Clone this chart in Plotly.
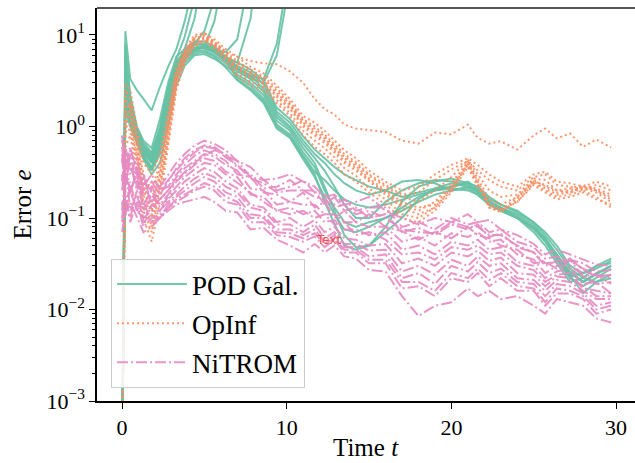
import plotly.graph_objects as go

# ---------------- data ----------------
t = [0.0, 0.2, 0.5, 0.9, 1.3, 1.8, 2.3, 2.8, 3.3, 3.8, 4.4, 5.0, 5.6, 6.3, 7.0, 7.8, 8.6, 9.4,
     10.2, 11.0, 11.7, 12.3, 12.9, 13.5, 14.2, 15.0, 16.0, 17.0, 18.0, 19.0, 20.0, 21.0, 21.6,
     22.3, 23.0, 24.0, 25.0, 25.7, 26.4, 27.2, 28.0, 28.8, 29.7]

N = None
# POD Galerkin runs (bounded ones)
pod_a = [1e-4, 8.0, 2.2, 1.0, 0.7, 0.58, 1.2, 3.0, 5.8, 7.0, 8.5, 8.5, 7.5, 5.8,
         5.0, 4.2, 3.2, 1.6, 1.2, 0.78, 0.56, 0.45, 0.36, 0.3, 0.26,
         0.22, 0.2, 0.17, 0.19, 0.21, 0.22, 0.25, 0.21, 0.16, 0.14, 0.12, 0.09, 0.07, 0.05, 0.03, 0.025, 0.028, 0.034]
pod_b = [1e-4, 5.0, 1.8, 0.9, 0.62, 0.5, 1.0, 2.6, 5.2, 6.5, 7.8, 7.8, 7.0, 5.5,
         4.6, 3.9, 2.9, 1.45, 1.1, 0.7, 0.5, 0.4, 0.3, 0.24, 0.2,
         0.18, 0.2, 0.25, 0.26, 0.24, 0.2, 0.22, 0.2, 0.15, 0.13, 0.11, 0.085, 0.06, 0.04, 0.025, 0.02, 0.024, 0.03]
pod_c = [1e-4, 3.0, 1.5, 0.82, 0.55, 0.43, 0.8, 2.2, 4.5, 6.0, 7.2, 7.2, 6.5, 5.2,
         4.3, 3.6, 2.6, 1.35, 1.0, 0.64, 0.45, 0.33, 0.22, 0.14, 0.1,
         0.1, 0.15, 0.2, 0.24, 0.26, 0.25, 0.23, 0.19, 0.14, 0.12, 0.1, 0.075, 0.055, 0.035, 0.022, 0.018, 0.022, 0.028]
pod_d = [1e-4, 2.0, 1.2, 0.72, 0.48, 0.36, 0.6, 1.6, 3.8, 5.4, 6.6, 6.8, 6.0, 4.9,
         4.0, 3.3, 2.4, 1.25, 0.95, 0.58, 0.4, 0.22, 0.12, 0.065, 0.048,
         0.05, 0.08, 0.15, 0.22, 0.25, 0.27, 0.24, 0.2, 0.15, 0.13, 0.1, 0.08, 0.06, 0.038, 0.024, 0.015, 0.02, 0.024]
pod_e = [1e-4, 1.5, 1.0, 0.65, 0.44, 0.3, 0.4, 1.0, 2.8, 4.6, 6.0, 6.2, 5.5, 4.6,
         3.7, 3.0, 2.2, 1.15, 0.9, 0.52, 0.36, 0.2, 0.13, 0.09, 0.08,
         0.09, 0.1, 0.12, 0.15, 0.18, 0.2, 0.21, 0.18, 0.14, 0.12, 0.1, 0.07, 0.05, 0.032, 0.02, 0.022, 0.03, 0.036]
pod_f = [1e-4, 6.0, 2.0, 0.95, 0.66, 0.52, 0.9, 2.4, 4.8, 6.4, 8.0, 8.0, 7.2, 5.6,
         3.5, 2.8, 2.0, 1.05, 0.82, 0.48, 0.32, 0.26, 0.2, 0.16, 0.14,
         0.13, 0.14, 0.16, 0.18, 0.2, 0.22, 0.24, 0.22, 0.17, 0.14, 0.115, 0.09, 0.065, 0.045, 0.028, 0.022, 0.02, 0.022]
pod_g = [1e-4, 4.0, 1.6, 0.86, 0.58, 0.46, 0.7, 1.9, 4.2, 5.8, 7.0, 7.4, 6.6, 5.3,
         3.3, 2.6, 1.9, 1.0, 0.78, 0.46, 0.3, 0.15, 0.085, 0.05, 0.045,
         0.05, 0.07, 0.1, 0.16, 0.21, 0.24, 0.22, 0.19, 0.15, 0.13, 0.105, 0.08, 0.058, 0.036, 0.023, 0.025, 0.03, 0.032]
pod_h = [1e-4, 2.5, 1.3, 0.76, 0.5, 0.33, 0.5, 1.3, 3.3, 5.0, 6.3, 6.5, 5.8, 4.4,
         3.2, 2.5, 1.8, 0.95, 0.75, 0.44, 0.28, 0.17, 0.11, 0.075, 0.07,
         0.08, 0.1, 0.13, 0.17, 0.2, 0.21, 0.2, 0.18, 0.14, 0.125, 0.1, 0.078, 0.057, 0.04, 0.026, 0.02, 0.025, 0.03]
# POD Galerkin runs that blow up
pod_u1 = [1e-4, 11.0, 3.3, 2.5, 2.0, 1.5, 2.7, 4.5, 7.0, 14.0, 40.0, 200.0] + [N] * 31
pod_u2 = [1e-4, 3.5, 1.7, 0.9, 0.6, 0.45, 0.9, 2.6, 5.5, 9.5, 25.0, 200.0] + [N] * 31
pod_u3 = [1e-4, 2.2, 1.3, 0.78, 0.52, 0.4, 0.75, 2.0, 4.5, 7.0, 15.0, 60.0] + [N] * 31
pod_u4 = [1e-4, 4.5, 1.7, 0.88, 0.6, 0.48, 0.85, 2.3, 4.8, 6.5, 8.0, 11.0, 25.0, 200.0] + [N] * 29
pod_u5 = [1e-4, 1.8, 1.1, 0.7, 0.46, 0.34, 0.55, 1.5, 3.6, 5.5, 6.8, 7.5, 14.0, 60.0] + [N] * 29
pod_u6 = [1e-4, 2.8, 1.4, 0.8, 0.54, 0.4, 0.65, 1.8, 4.0, 5.8, 7.0, 7.3, 6.8, 6.5, 9.0, 50.0] + [N] * 27
pod_u7 = [1e-4, 3.8, 1.6, 0.85, 0.57, 0.44, 0.7, 2.0, 4.3, 6.0, 7.3, 7.6, 6.7, 5.4, 5.0, 15.0, 200.0] + [N] * 26
pod_u8 = [1e-4, 2.4, 1.35, 0.8, 0.53, 0.42, 0.68, 1.9, 4.1, 5.9, 7.1, 7.4, 6.6, 5.4, 4.4, 3.6, 3.3, 8.0, 60.0] + [N] * 24
pod_u9 = [1e-4, 1.7, 1.05, 0.68, 0.45, 0.35, 0.58, 1.6, 3.7, 5.6, 6.9, 7.2, 6.4, 5.2, 4.2, 3.4, 3.0, 6.0, 40.0] + [N] * 24

# Operator Inference runs
opi_out = [1e-4, 2.0, 1.5, 0.6, 0.2, 0.12, 0.3, 1.0, 3.5, 6.5, 9.5, 10.5, 8.5, 6.5,
           5.8, 5.2, 4.9, 4.8, 4.0, 3.0, 2.0, 1.55, 1.35, 1.05, 0.95,
           0.92, 0.87, 0.7, 0.65, 0.86, 0.82, 1.05, 0.75, 0.65, 0.69, 0.56, 0.8, 0.95, 0.74, 0.84, 0.6, 0.72, 0.59]
opi_a = [1e-4, 3.0, 2.5, 1.0, 0.4, 0.3, 0.5, 1.5, 4.5, 7.0, 10.0, 10.5, 9.0, 7.0,
         5.8, 4.5, 3.8, 2.8, 2.0, 1.3, 1.1, 0.9, 0.7, 0.55, 0.45,
         0.33, 0.25, 0.2, 0.22, 0.3, 0.38, 0.45, 0.38, 0.3, 0.25, 0.22, 0.3, 0.32, 0.25, 0.24, 0.22, 0.25, 0.22]
opi_b = [1e-4, 2.5, 2.0, 0.8, 0.3, 0.2, 0.4, 1.2, 4.0, 6.5, 9.0, 10.0, 8.5, 6.5,
         5.2, 4.2, 3.5, 2.6, 1.85, 1.2, 1.0, 0.82, 0.64, 0.5, 0.41,
         0.3, 0.23, 0.18, 0.19, 0.26, 0.34, 0.42, 0.33, 0.26, 0.22, 0.2, 0.28, 0.3, 0.23, 0.22, 0.2, 0.23, 0.2]
opi_c = [1e-4, 1.5, 1.2, 0.5, 0.18, 0.1, 0.25, 0.9, 3.2, 6.0, 8.5, 9.5, 8.0, 6.0,
         4.6, 3.8, 3.2, 2.3, 1.7, 1.1, 0.9, 0.74, 0.58, 0.45, 0.37,
         0.27, 0.2, 0.15, 0.13, 0.14, 0.22, 0.4, 0.25, 0.14, 0.12, 0.17, 0.26, 0.22, 0.19, 0.2, 0.22, 0.2, 0.16]
opi_d = [1e-4, 1.0, 0.9, 0.4, 0.12, 0.07, 0.2, 0.8, 3.0, 5.5, 8.0, 9.0, 7.5, 5.5,
         4.2, 3.4, 2.9, 2.1, 1.55, 1.0, 0.8, 0.66, 0.52, 0.4, 0.33,
         0.25, 0.18, 0.13, 0.11, 0.13, 0.2, 0.38, 0.24, 0.13, 0.115, 0.16, 0.25, 0.21, 0.18, 0.19, 0.21, 0.19, 0.15]
opi_e = [1e-4, 0.6, 0.8, 0.3, 0.1, 0.055, 0.15, 0.6, 2.5, 5.0, 7.5, 8.5, 7.0, 5.0,
         3.5, 2.8, 2.5, 1.8, 1.3, 0.8, 0.6, 0.5, 0.4, 0.3, 0.25,
         0.19, 0.14, 0.1, 0.09, 0.12, 0.19, 0.36, 0.22, 0.13, 0.12, 0.15, 0.24, 0.2, 0.17, 0.18, 0.2, 0.17, 0.13]
opi_f = [1e-4, 2.0, 1.6, 0.7, 0.25, 0.15, 0.35, 1.1, 3.8, 6.2, 9.2, 9.8, 8.2, 6.2,
         4.9, 4.0, 3.3, 2.45, 1.75, 1.15, 0.95, 0.78, 0.6, 0.47, 0.39,
         0.29, 0.22, 0.17, 0.15, 0.2, 0.28, 0.43, 0.3, 0.2, 0.17, 0.18, 0.27, 0.26, 0.2, 0.21, 0.23, 0.21, 0.18]
opi_g = [1e-4, 1.2, 1.0, 0.45, 0.15, 0.08, 0.22, 0.7, 2.8, 5.2, 7.8, 8.8, 7.6, 5.8,
         3.8, 3.1, 2.7, 1.95, 1.4, 0.9, 0.7, 0.58, 0.46, 0.35, 0.29,
         0.21, 0.16, 0.11, 0.1, 0.13, 0.21, 0.39, 0.23, 0.14, 0.125, 0.15, 0.23, 0.19, 0.16, 0.17, 0.19, 0.16, 0.14]
opi_h = [1e-4, 0.8, 1.8, 0.6, 0.22, 0.12, 0.3, 1.0, 3.5, 5.8, 8.8, 9.2, 7.8, 6.0,
         4.4, 3.6, 3.0, 2.2, 1.6, 1.05, 0.85, 0.7, 0.55, 0.42, 0.35,
         0.26, 0.19, 0.14, 0.12, 0.15, 0.24, 0.41, 0.27, 0.16, 0.14, 0.17, 0.25, 0.23, 0.2, 0.19, 0.22, 0.2, 0.17]

# NiTROM runs
nit_a = [0.8, 0.35, 0.6, 0.3, 0.25, 0.2, 0.22, 0.3, 0.4, 0.5, 0.62, 0.7, 0.65, 0.55, 0.42, 0.36, 0.26, 0.27,
         0.3, 0.25, 0.22, 0.17, 0.18, 0.14, 0.15, 0.17, 0.12, 0.1, 0.085, 0.1, 0.09, 0.11, 0.09, 0.095, 0.075,
         0.065, 0.052, 0.04, 0.045, 0.04, 0.035, 0.031, 0.03]
nit_b = [0.7, 0.5, 0.3, 0.45, 0.2, 0.25, 0.18, 0.25, 0.35, 0.45, 0.55, 0.62, 0.6, 0.48, 0.42, 0.28, 0.26, 0.2,
         0.22, 0.26, 0.19, 0.18, 0.14, 0.16, 0.12, 0.13, 0.13, 0.08, 0.09, 0.075, 0.1, 0.085, 0.09, 0.07, 0.075,
         0.055, 0.048, 0.036, 0.038, 0.035, 0.032, 0.026, 0.027]
nit_c = [0.5, 0.25, 0.4, 0.2, 0.28, 0.15, 0.2, 0.22, 0.3, 0.38, 0.48, 0.55, 0.5, 0.42, 0.3, 0.28, 0.19, 0.18,
         0.15, 0.19, 0.13, 0.15, 0.1, 0.12, 0.09, 0.11, 0.08, 0.072, 0.058, 0.07, 0.06, 0.08, 0.065, 0.06, 0.05,
         0.045, 0.032, 0.033, 0.028, 0.035, 0.023, 0.024, 0.019]
nit_d = [0.3, 0.15, 0.2, 0.3, 0.12, 0.18, 0.14, 0.18, 0.25, 0.3, 0.38, 0.45, 0.42, 0.32, 0.28, 0.18, 0.17, 0.12,
         0.13, 0.11, 0.12, 0.09, 0.095, 0.075, 0.075, 0.065, 0.07, 0.045, 0.05, 0.04, 0.055, 0.05, 0.058, 0.045, 0.048,
         0.033, 0.03, 0.022, 0.026, 0.028, 0.019, 0.02, 0.015]
nit_e = [0.2, 0.4, 0.12, 0.18, 0.1, 0.12, 0.12, 0.16, 0.2, 0.25, 0.3, 0.35, 0.32, 0.25, 0.21, 0.14, 0.13, 0.09,
         0.1, 0.08, 0.095, 0.07, 0.08, 0.06, 0.058, 0.05, 0.052, 0.032, 0.036, 0.03, 0.042, 0.038, 0.044, 0.034, 0.037,
         0.025, 0.024, 0.018, 0.023, 0.022, 0.018, 0.014, 0.014]
nit_f = [0.15, 0.1, 0.25, 0.12, 0.15, 0.09, 0.1, 0.14, 0.17, 0.2, 0.24, 0.28, 0.25, 0.19, 0.17, 0.11, 0.105, 0.075,
         0.075, 0.065, 0.075, 0.055, 0.065, 0.048, 0.048, 0.038, 0.04, 0.022, 0.025, 0.019, 0.03, 0.026, 0.033, 0.025, 0.028,
         0.02, 0.019, 0.014, 0.019, 0.018, 0.015, 0.011, 0.012]
nit_g = [0.1, 0.2, 0.09, 0.15, 0.08, 0.1, 0.11, 0.13, 0.15, 0.17, 0.2, 0.22, 0.2, 0.15, 0.14, 0.09, 0.09, 0.065,
         0.062, 0.055, 0.063, 0.048, 0.058, 0.042, 0.042, 0.032, 0.032, 0.017, 0.018, 0.014, 0.022, 0.02, 0.025, 0.018, 0.022,
         0.016, 0.016, 0.011, 0.015, 0.015, 0.013, 0.009, 0.01]
nit_h = [0.07, 0.12, 0.15, 0.1, 0.07, 0.08, 0.1, 0.12, 0.14, 0.15, 0.16, 0.17, 0.15, 0.12, 0.115, 0.075, 0.078, 0.058,
         0.05, 0.042, 0.052, 0.042, 0.05, 0.038, 0.036, 0.027, 0.026, 0.014, 0.0085, 0.011, 0.012, 0.017, 0.014, 0.016, 0.013,
         0.014, 0.011, 0.009, 0.013, 0.012, 0.011, 0.008, 0.0072]
nit_i = [0.4, 0.6, 0.35, 0.25, 0.18, 0.22, 0.16, 0.2, 0.28, 0.35, 0.42, 0.5, 0.47, 0.38, 0.33, 0.21, 0.2, 0.14,
         0.15, 0.14, 0.14, 0.11, 0.11, 0.09, 0.09, 0.08, 0.08, 0.055, 0.062, 0.05, 0.068, 0.062, 0.07, 0.055, 0.058,
         0.04, 0.035, 0.025, 0.03, 0.03, 0.024, 0.019, 0.02]
nit_j = [0.6, 0.3, 0.5, 0.22, 0.3, 0.13, 0.16, 0.2, 0.26, 0.32, 0.4, 0.48, 0.55, 0.5, 0.36, 0.3, 0.21, 0.22,
         0.26, 0.2, 0.2, 0.14, 0.17, 0.12, 0.13, 0.1, 0.11, 0.07, 0.078, 0.065, 0.085, 0.075, 0.085, 0.062, 0.068,
         0.048, 0.042, 0.03, 0.034, 0.036, 0.027, 0.023, 0.024]
nit_k = [0.25, 0.5, 0.18, 0.35, 0.14, 0.2, 0.13, 0.17, 0.22, 0.28, 0.34, 0.4, 0.38, 0.3, 0.24, 0.19, 0.15, 0.12,
         0.11, 0.12, 0.1, 0.11, 0.085, 0.09, 0.065, 0.07, 0.058, 0.04, 0.042, 0.035, 0.048, 0.045, 0.05, 0.04, 0.042,
         0.03, 0.027, 0.02, 0.024, 0.025, 0.017, 0.016, 0.015]
nit_l = [0.12, 0.3, 0.2, 0.12, 0.1, 0.14, 0.12, 0.15, 0.18, 0.22, 0.27, 0.31, 0.28, 0.22, 0.19, 0.13, 0.12, 0.085,
         0.085, 0.07, 0.085, 0.06, 0.07, 0.052, 0.052, 0.044, 0.045, 0.026, 0.03, 0.024, 0.035, 0.03, 0.038, 0.03, 0.032,
         0.022, 0.021, 0.016, 0.021, 0.02, 0.016, 0.013, 0.013]
nit_m = [0.45, 0.2, 0.55, 0.35, 0.22, 0.3, 0.2, 0.26, 0.33, 0.42, 0.52, 0.6, 0.58, 0.46, 0.38, 0.27, 0.24, 0.19,
         0.2, 0.2, 0.17, 0.16, 0.13, 0.14, 0.11, 0.12, 0.1, 0.075, 0.07, 0.068, 0.09, 0.08, 0.08, 0.065, 0.065,
         0.05, 0.042, 0.032, 0.033, 0.034, 0.028, 0.024, 0.022]
nit_n = [0.09, 0.15, 0.1, 0.2, 0.09, 0.11, 0.1, 0.13, 0.16, 0.18, 0.21, 0.24, 0.22, 0.17, 0.15, 0.1, 0.1, 0.07,
         0.068, 0.06, 0.068, 0.052, 0.06, 0.045, 0.045, 0.035, 0.035, 0.02, 0.02, 0.016, 0.025, 0.022, 0.028, 0.021, 0.025,
         0.018, 0.017, 0.012, 0.017, 0.016, 0.014, 0.01, 0.011]

y_tick_vals = [1e-3, 1e-2, 1e-1, 1e0, 1e1]
y_tick_text = ["10<sup>\u22123</sup>", "10<sup>\u22122</sup>", "10<sup>\u22121</sup>",
               "10<sup>0</sup>", "10<sup>1</sup>"]
x_tick_vals = [0, 10, 20, 30]
method_names = ["POD Gal.", "OpInf", "NiTROM"]

# ---------------- figure ----------------
SERIF = "Liberation Serif, Times New Roman, serif"
colors = ["#66c2a5", "#fc8d62", "#e78ac3"]
dashes = ["solid", "2px,3px", "11px,3px,2px,3px"]

groups = [
    [pod_a, pod_b, pod_c, pod_d, pod_e, pod_f, pod_g, pod_h,
     pod_u1, pod_u2, pod_u3, pod_u4, pod_u5, pod_u6, pod_u7, pod_u8, pod_u9],
    [opi_a, opi_b, opi_c, opi_d, opi_e, opi_f, opi_g, opi_h, opi_out],
    [nit_a, nit_b, nit_c, nit_d, nit_e, nit_f, nit_g, nit_h, nit_i, nit_j,
     nit_k, nit_l, nit_m, nit_n],
]

fig = go.Figure()
for gi, runs in enumerate(groups):
    for ri, ys in enumerate(runs):
        fig.add_trace(go.Scatter(
            x=t, y=ys, mode="lines", name=method_names[gi],
            legendgroup=method_names[gi], showlegend=(ri == 0),
            line=dict(color=colors[gi], width=2, dash=dashes[gi]),
            opacity=0.9, connectgaps=False, hoverinfo="skip"))

minor_vals = [m * 10 ** e for e in range(-3, 2) for m in range(2, 10)]

fig.update_layout(
    width=635, height=463,
    margin=dict(l=97, r=0, t=8, b=62, autoexpand=False),
    paper_bgcolor="white", plot_bgcolor="white",
    font=dict(family=SERIF, size=22, color="black"),
    xaxis=dict(range=[-1.52, 31.15], tickvals=x_tick_vals, ticks="outside", ticklen=6,
               tickwidth=1.2, tickcolor="black", showgrid=False, zeroline=False,
               showline=True, linecolor="black", linewidth=1.5, automargin=False,
               tickfont=dict(family=SERIF, size=22)),
    yaxis=dict(type="log", range=[-3, 1.295], tickvals=y_tick_vals, ticktext=y_tick_text,
               ticks="outside", ticklen=6, tickwidth=1.2, tickcolor="black", automargin=False,
               showgrid=False, zeroline=False, showline=True, linecolor="black", linewidth=1.5,
               tickfont=dict(family=SERIF, size=22),
               minor=dict(tickvals=minor_vals, ticks="outside", ticklen=3, tickcolor="black",
                          tickwidth=1, showgrid=False)),
    legend=dict(x=0.026, y=0.033, xanchor="left", yanchor="bottom",
                bgcolor="rgba(255,255,255,0.85)", bordercolor="#cccccc", borderwidth=1,
                font=dict(family=SERIF, size=27), itemwidth=70,
                traceorder="grouped", tracegroupgap=1),
    showlegend=True,
)

fig.add_shape(type="line", xref="paper", yref="paper", x0=0, x1=1, y0=1, y1=1,
              line=dict(color="#555555", width=2))

fig.add_annotation(text="Time <i>t</i>", xref="paper", yref="paper", x=0.5, y=0,
                   yshift=-46, showarrow=False, yanchor="middle",
                   font=dict(family=SERIF, size=25))
fig.add_annotation(text="Error <i>e</i>", xref="paper", yref="paper", x=0, y=0.5,
                   xshift=-75, showarrow=False, textangle=-90, xanchor="center",
                   font=dict(family=SERIF, size=25))
fig.add_annotation(text="Text", x=12.57, y=-1.235, xref="x", yref="y", showarrow=False,
                   font=dict(family="DejaVu Sans, sans-serif", size=12, color="#f0504a"))

fig.write_html("out.html", config={"displayModeBar": False},
               post_script="document.body.style.margin='0px';")
